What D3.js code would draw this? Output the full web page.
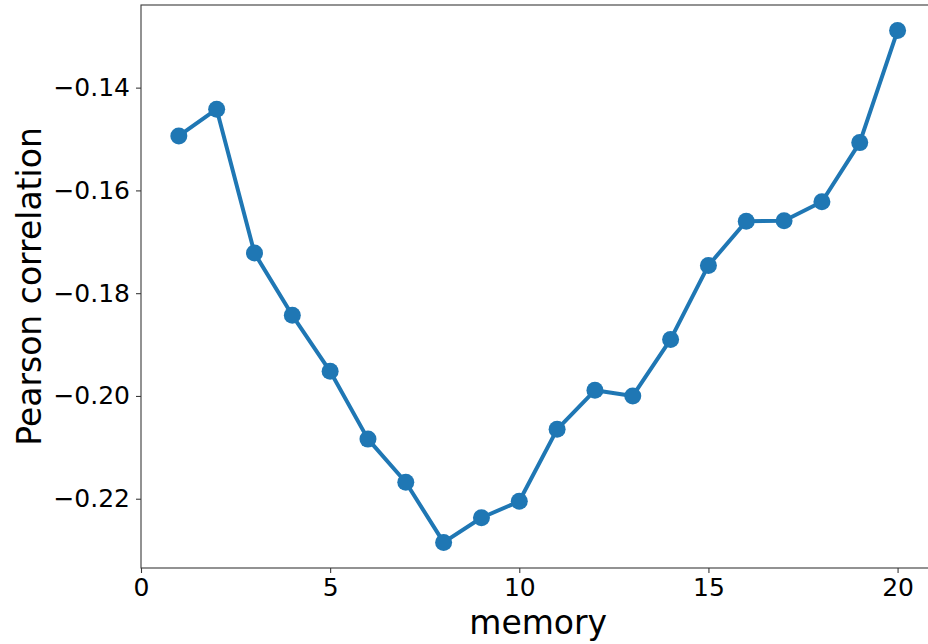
<!DOCTYPE html>
<html>
<head>
<meta charset="utf-8">
<script src="https://cdn.jsdelivr.net/npm/d3@7"></script>
<style>
  html, body { margin: 0; padding: 0; background: #fff; overflow: hidden; }
  svg { display: block; font-family: "DejaVu Sans", sans-serif; }
</style>
</head>
<body>
<svg id="chart" width="928" height="644"></svg>
<script>
const memory = [1, 2, 3, 4, 5, 6, 7, 8, 9, 10, 11, 12, 13, 14, 15, 16, 17, 18, 19, 20];
const pearson = [-0.1494, -0.1442, -0.1722, -0.1843, -0.1952, -0.2084, -0.2168, -0.2285, -0.2237, -0.2205,
                 -0.2065, -0.1989, -0.2000, -0.1890, -0.1746, -0.1660, -0.1659, -0.1622, -0.1507, -0.1289];
const xTicks = [0, 5, 10, 15, 20];
const yTicks = [-0.22, -0.20, -0.18, -0.16, -0.14];
const xLabel = "memory";
const yLabel = "Pearson correlation";

const svg = d3.select("#chart");
const plotLeft = 141, plotRight = 935.4, plotTop = 5, plotBottom = 568;

const yMin = d3.min(pearson), yMax = d3.max(pearson);
const pad = (yMax - yMin) * 0.05;
const x = d3.scaleLinear().domain([0, 21]).range([plotLeft, plotRight]);
const y = d3.scaleLinear().domain([yMin - pad, yMax + pad]).range([plotBottom, plotTop]);

const axisColor = "#3a3a3a";
const fmtY = v => (v < 0 ? "\u2212" : "") + Math.abs(v).toFixed(2);

// x axis
const gx = svg.append("g").attr("transform", `translate(0,${plotBottom})`)
  .call(d3.axisBottom(x).tickValues(xTicks).tickSize(5).tickPadding(5).tickFormat(d3.format("d")));
gx.select(".domain").remove();
gx.selectAll(".tick line").attr("stroke", axisColor).attr("stroke-width", 1.1);
gx.selectAll(".tick text").attr("fill", "#000").attr("font-size", 25)
  .attr("font-family", "DejaVu Sans, sans-serif");

// y axis
const gy = svg.append("g").attr("transform", `translate(${plotLeft},0)`)
  .call(d3.axisLeft(y).tickValues(yTicks).tickSize(5).tickPadding(6).tickFormat(fmtY));
gy.select(".domain").remove();
gy.selectAll(".tick line").attr("stroke", axisColor).attr("stroke-width", 1.1);
gy.selectAll(".tick text").attr("fill", "#000").attr("font-size", 25)
  .attr("font-family", "DejaVu Sans, sans-serif");

// frame
svg.append("rect")
  .attr("x", plotLeft).attr("y", plotTop)
  .attr("width", plotRight - plotLeft).attr("height", plotBottom - plotTop)
  .attr("fill", "none").attr("stroke", axisColor).attr("stroke-width", 1.1);

// line
const pts = memory.map((m, i) => [m, pearson[i]]);
svg.append("path")
  .datum(pts)
  .attr("fill", "none")
  .attr("stroke", "#1f77b4")
  .attr("stroke-width", 4)
  .attr("stroke-linejoin", "round")
  .attr("d", d3.line().x(d => x(d[0])).y(d => y(d[1])));

svg.append("g").selectAll("circle")
  .data(pts)
  .join("circle")
  .attr("cx", d => x(d[0]))
  .attr("cy", d => y(d[1]))
  .attr("r", 8.5)
  .attr("fill", "#1f77b4");

// labels
svg.append("text")
  .attr("x", (plotLeft + plotRight) / 2).attr("y", 634)
  .attr("text-anchor", "middle")
  .attr("font-size", 33)
  .attr("fill", "#000")
  .text(xLabel);

svg.append("text")
  .attr("transform", `translate(41,${(plotTop + plotBottom) / 2}) rotate(-90)`)
  .attr("text-anchor", "middle")
  .attr("font-size", 33)
  .attr("fill", "#000")
  .text(yLabel);
</script>
</body>
</html>
